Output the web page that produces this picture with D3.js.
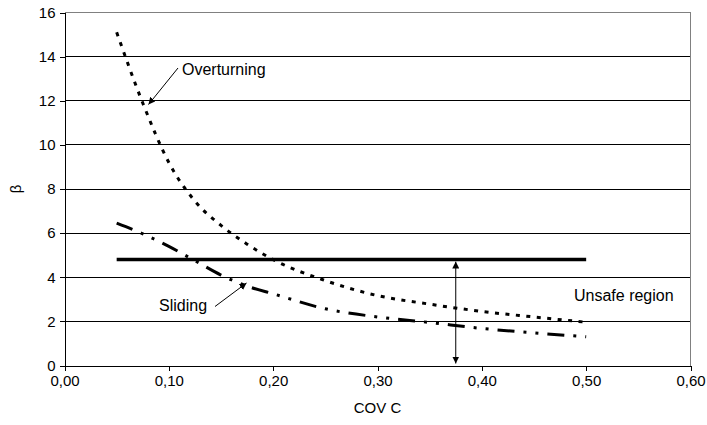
<!DOCTYPE html>
<html>
<head>
<meta charset="utf-8">
<script src="https://cdn.jsdelivr.net/npm/d3@7"></script>
<style>
  body { margin: 0; background: #fff; }
  text { font-family: "Liberation Sans", Arial, sans-serif; }
</style>
</head>
<body>
<script>
var w = 707, h = 425;

// data
var cov = [0.05, 0.075, 0.10, 0.125, 0.15, 0.175, 0.20, 0.25, 0.30, 0.35, 0.40, 0.45, 0.50];
var overturning = [15.1, 11.9, 9.2, 7.45, 6.35, 5.5, 4.8, 3.85, 3.17, 2.78, 2.45, 2.2, 1.96];
var sliding = [6.45, 5.97, 5.4, 4.75, 4.1, 3.6, 3.25, 2.57, 2.2, 1.95, 1.68, 1.48, 1.3];
var limitCov = [0.05, 0.50];
var limitBeta = 4.8;
var unsafeCov = 0.375;
var xTicks = [0, 0.1, 0.2, 0.3, 0.4, 0.5, 0.6];
var yTicks = [0, 2, 4, 6, 8, 10, 12, 14, 16];

var svg = d3.select("body").append("svg")
  .attr("width", w).attr("height", h);

var x = d3.scaleLinear().domain([0, 0.6]).range([64.5, 690.5]);
var y = d3.scaleLinear().domain([0, 16]).range([365.5, 12.5]);

// arrow markers
var defs = svg.append("defs");
defs.append("marker")
  .attr("id", "arr").attr("viewBox", "0 0 10 10")
  .attr("refX", 10).attr("refY", 5)
  .attr("markerWidth", 7).attr("markerHeight", 7)
  .attr("markerUnits", "userSpaceOnUse")
  .attr("orient", "auto-start-reverse")
  .append("path").attr("d", "M0,0 L10,5 L0,10 z").attr("fill", "#000");

// gridlines
svg.append("g").selectAll("line")
  .data(yTicks.filter(function(d) { return d > 0 && d < 16; }))
  .enter().append("line")
  .attr("x1", x(0)).attr("x2", x(0.6))
  .attr("y1", function(d) { return y(d); })
  .attr("y2", function(d) { return y(d); })
  .attr("stroke", "#000").attr("stroke-width", 1)
  .attr("shape-rendering", "crispEdges");

// top / right border
svg.append("path")
  .attr("d", "M" + x(0) + "," + y(16) + "H" + x(0.6) + "V" + y(0))
  .attr("fill", "none").attr("stroke", "#808080")
  .attr("shape-rendering", "crispEdges");

// axes
var xAxis = svg.append("g")
  .attr("transform", "translate(0," + y(0) + ")")
  .call(d3.axisBottom(x).tickValues(xTicks).tickSizeOuter(0).tickSize(5)
    .tickFormat(function(d) { return d3.format(".2f")(d).replace(".", ","); }));
var yAxis = svg.append("g")
  .attr("transform", "translate(" + x(0) + ",0)")
  .call(d3.axisLeft(y).tickValues(yTicks).tickSizeOuter(0).tickSize(5));

[xAxis, yAxis].forEach(function(g) {
  g.selectAll("path, line").attr("stroke", "#000").attr("shape-rendering", "crispEdges");
  g.selectAll("text").attr("font-size", "15px").attr("fill", "#000")
    .attr("font-family", "Liberation Sans, Arial, sans-serif");
});
xAxis.selectAll("text").attr("dy", "0.71em").attr("y", 10);
yAxis.selectAll("text").attr("x", -9);

// axis titles
svg.append("text").attr("x", (x(0) + x(0.6)) / 2).attr("y", 413)
  .attr("text-anchor", "middle").attr("font-size", "15px").text("COV C");
svg.append("text")
  .attr("transform", "translate(21," + y(8) + ") rotate(-90)")
  .attr("text-anchor", "middle").attr("font-size", "15px").text("β");

var line = d3.line()
  .x(function(d) { return x(d[0]); })
  .y(function(d) { return y(d[1]); })
  .curve(d3.curveMonotoneX);

// overturning
svg.append("path")
  .datum(d3.zip(cov, overturning))
  .attr("d", line)
  .attr("fill", "none").attr("stroke", "#000")
  .attr("stroke-width", 3).attr("stroke-dasharray", "4,6.5");

// sliding
svg.append("path")
  .datum(d3.zip(cov, sliding))
  .attr("d", line)
  .attr("fill", "none").attr("stroke", "#000")
  .attr("stroke-width", 3).attr("stroke-dasharray", "17,9,3,9,3,9");

// limit line
svg.append("line")
  .attr("x1", x(limitCov[0])).attr("x2", x(limitCov[1]))
  .attr("y1", y(limitBeta)).attr("y2", y(limitBeta))
  .attr("stroke", "#000").attr("stroke-width", 3.5);

// unsafe region double arrow
svg.append("line")
  .attr("x1", x(unsafeCov)).attr("x2", x(unsafeCov))
  .attr("y1", y(limitBeta) + 2).attr("y2", y(0) - 2)
  .attr("stroke", "#000").attr("stroke-width", 1)
  .attr("marker-start", "url(#arr)").attr("marker-end", "url(#arr)");

// annotations
svg.append("text").attr("x", 182).attr("y", 75)
  .attr("font-size", "16px").text("Overturning");
svg.append("line")
  .attr("x1", 178).attr("y1", 68).attr("x2", 148.5).attr("y2", 104.5)
  .attr("stroke", "#000").attr("stroke-width", 1)
  .attr("marker-end", "url(#arr)");

svg.append("text").attr("x", 159).attr("y", 311)
  .attr("font-size", "16px").text("Sliding");
svg.append("line")
  .attr("x1", 215).attr("y1", 306.5).attr("x2", 246.5).attr("y2", 283)
  .attr("stroke", "#000").attr("stroke-width", 1)
  .attr("marker-end", "url(#arr)");

svg.append("text").attr("x", 574).attr("y", 301)
  .attr("font-size", "16px").text("Unsafe region");
</script>
</body>
</html>
